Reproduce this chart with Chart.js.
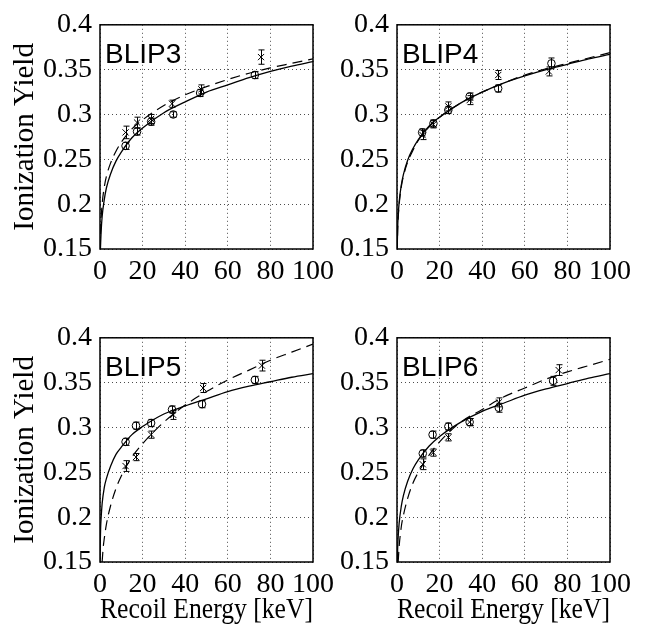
<!DOCTYPE html>
<html><head><meta charset="utf-8">
<script src="https://cdn.jsdelivr.net/npm/chart.js@4.4.0/dist/chart.umd.min.js"></script>
<style>
html,body{margin:0;padding:0;background:#fff;width:647px;height:627px;overflow:hidden;}
canvas{position:absolute;}
</style></head><body>
<canvas id="c1" width="340" height="300" style="left:0px;top:0px"></canvas>
<canvas id="c2" width="340" height="300" style="left:297px;top:0px"></canvas>
<canvas id="c3" width="340" height="314" style="left:0px;top:313px"></canvas>
<canvas id="c4" width="340" height="314" style="left:297px;top:313px"></canvas>
<script>
// ---------- tick labels ----------
const xTickValues = [0, 20, 40, 60, 80, 100];
const xTickLabels = ['0', '20', '40', '60', '80', '100'];
const yTickValues = [0.15, 0.2, 0.25, 0.3, 0.35, 0.4];
const yTickLabels = ['0.15', '0.2', '0.25', '0.3', '0.35', '0.4'];
const panelNames = ['BLIP3', 'BLIP4', 'BLIP5', 'BLIP6'];

// ---------- BLIP3 ----------
const blip3CircleE = [12.0, 17.4, 24.0, 34.4, 47.0, 72.7];
const blip3CircleY = [0.265, 0.281, 0.292, 0.300, 0.324, 0.344];
const blip3CircleErr = [0.004, 0.004, 0.004, 0.003, 0.004, 0.004];
const blip3StarE = [12.0, 17.4, 24.0, 33.8, 47.6, 75.6];
const blip3StarY = [0.280, 0.291, 0.295, 0.312, 0.328, 0.364];
const blip3StarErr = [0.007, 0.006, 0.005, 0.004, 0.005, 0.008];
const blip3SolidE = [0.2, 0.5, 1, 2, 3, 5, 7.5, 10, 15, 20, 30, 40, 50, 60, 70, 80, 90, 100];
const blip3SolidY = [0.150, 0.168, 0.186, 0.205, 0.218, 0.234, 0.248, 0.258, 0.274, 0.285, 0.302, 0.314, 0.325, 0.333, 0.341, 0.348, 0.354, 0.359];
const blip3DashE = [0.1, 0.3, 0.5, 1, 2, 3, 5, 7.5, 10, 15, 20, 30, 40, 50, 60, 70, 80, 90, 100];
const blip3DashY = [0.149, 0.171, 0.183, 0.200, 0.219, 0.231, 0.246, 0.259, 0.269, 0.284, 0.294, 0.310, 0.322, 0.331, 0.339, 0.346, 0.352, 0.357, 0.362];

// ---------- BLIP4 ----------
const blip4CircleE = [11.8, 17.1, 24.1, 34.1, 47.5, 72.5];
const blip4CircleY = [0.280, 0.290, 0.305, 0.320, 0.329, 0.357];
const blip4CircleErr = [0.004, 0.004, 0.004, 0.004, 0.004, 0.006];
const blip4StarE = [12.0, 17.1, 24.1, 34.1, 47.5, 71.3];
const blip4StarY = [0.277, 0.289, 0.309, 0.316, 0.344, 0.348];
const blip4StarErr = [0.005, 0.004, 0.005, 0.005, 0.005, 0.005];
const blip4SolidE = [0.1, 0.3, 0.5, 1, 2, 3, 5, 7.5, 10, 15, 20, 30, 40, 50, 60, 70, 80, 90, 100];
const blip4SolidY = [0.151, 0.173, 0.185, 0.202, 0.221, 0.233, 0.249, 0.262, 0.272, 0.287, 0.297, 0.313, 0.325, 0.335, 0.343, 0.350, 0.356, 0.362, 0.367];
const blip4DashE = [0.1, 0.3, 0.5, 1, 2, 3, 5, 7.5, 10, 15, 20, 30, 40, 50, 60, 70, 80, 90, 100];
const blip4DashY = [0.147, 0.170, 0.182, 0.199, 0.219, 0.231, 0.247, 0.260, 0.271, 0.286, 0.297, 0.313, 0.325, 0.335, 0.344, 0.351, 0.357, 0.363, 0.369];

// ---------- BLIP5 ----------
const blip5CircleE = [12.0, 16.9, 24.0, 33.8, 47.9, 72.7];
const blip5CircleY = [0.284, 0.302, 0.305, 0.320, 0.326, 0.353];
const blip5CircleErr = [0.004, 0.004, 0.004, 0.004, 0.004, 0.004];
const blip5StarE = [12.0, 16.9, 24.0, 34.4, 48.4, 76.0];
const blip5StarY = [0.257, 0.267, 0.292, 0.314, 0.344, 0.369];
const blip5StarErr = [0.006, 0.004, 0.004, 0.005, 0.005, 0.006];
const blip5SolidE = [0.03, 0.1, 0.3, 0.5, 1, 2, 3, 5, 7.5, 10, 15, 20, 30, 40, 50, 60, 70, 80, 90, 100];
const blip5SolidY = [0.150, 0.166, 0.188, 0.198, 0.215, 0.233, 0.243, 0.257, 0.270, 0.278, 0.292, 0.301, 0.315, 0.324, 0.332, 0.340, 0.346, 0.351, 0.356, 0.360];
const blip5DashE = [1, 1.5, 2, 3, 5, 7.5, 10, 15, 20, 30, 40, 50, 60, 70, 80, 90, 100];
const blip5DashY = [0.150, 0.166, 0.176, 0.192, 0.213, 0.232, 0.246, 0.267, 0.282, 0.306, 0.325, 0.340, 0.353, 0.364, 0.375, 0.384, 0.393];

// ---------- BLIP6 ----------
const blip6CircleE = [12.1, 16.7, 24.1, 34.1, 47.8, 73.3];
const blip6CircleY = [0.271, 0.292, 0.301, 0.306, 0.322, 0.352];
const blip6CircleErr = [0.004, 0.004, 0.004, 0.004, 0.005, 0.005];
const blip6StarE = [12.1, 17.0, 24.1, 34.1, 47.8, 75.9];
const blip6StarY = [0.259, 0.272, 0.289, 0.306, 0.328, 0.364];
const blip6StarErr = [0.006, 0.004, 0.004, 0.004, 0.005, 0.006];
const blip6SolidE = [0.16, 0.3, 0.5, 1, 2, 3, 5, 7.5, 10, 15, 20, 30, 40, 50, 60, 70, 80, 90, 100];
const blip6SolidY = [0.150, 0.164, 0.176, 0.193, 0.212, 0.224, 0.240, 0.254, 0.264, 0.279, 0.290, 0.306, 0.318, 0.327, 0.336, 0.343, 0.349, 0.355, 0.360];
const blip6DashE = [0.55, 1, 2, 3, 5, 7.5, 10, 15, 20, 30, 40, 50, 60, 70, 80, 90, 100];
const blip6DashY = [0.150, 0.167, 0.189, 0.202, 0.221, 0.238, 0.250, 0.269, 0.284, 0.306, 0.320, 0.334, 0.344, 0.354, 0.362, 0.369, 0.376];

// ---------- helpers ----------
const SERIF = '"Liberation Serif", "Times New Roman", Times, serif';
const SANS = '"Liberation Sans", Arial, Helvetica, sans-serif';
function zip(xs, ys) { return xs.map((x, i) => ({x: x, y: ys[i]})); }

const panelPlugin = {
  id: 'panel',
  afterDatasetsDraw(chart, args, opts) {
    const ctx = chart.ctx, a = chart.chartArea, xs = chart.scales.x, ys = chart.scales.y;
    ctx.save();
    ctx.beginPath(); ctx.rect(a.left, a.top, a.right - a.left, a.bottom - a.top); ctx.clip();
    ctx.strokeStyle = '#000'; ctx.lineWidth = 1;
    chart.data.datasets.forEach((ds) => {
      if (!ds.errors) return;
      ds.data.forEach((p, j) => {
        const px = Math.round(xs.getPixelForValue(p.x)) + 0.5;
        const y1 = ys.getPixelForValue(p.y - ds.errors[j]);
        const y2 = ys.getPixelForValue(p.y + ds.errors[j]);
        ctx.beginPath();
        ctx.moveTo(px, y1); ctx.lineTo(px, y2);
        ctx.moveTo(px - 3, y1); ctx.lineTo(px + 3, y1);
        ctx.moveTo(px - 3, y2); ctx.lineTo(px + 3, y2);
        ctx.stroke();
      });
    });
    ctx.restore();
    ctx.save();
    ctx.strokeStyle = '#000'; ctx.lineWidth = 1.5;
    ctx.strokeRect(a.left, a.top, a.right - a.left, a.bottom - a.top);
    ctx.fillStyle = '#000';
    ctx.font = '28px ' + SANS;
    ctx.textAlign = 'left'; ctx.textBaseline = 'alphabetic';
    ctx.fillText(opts.label, a.left + 5, a.top + 38);
    ctx.restore();
  }
};

function makePanel(id, label, d, showXTitle, showYTitle, xAxisHeight) {
  const datasets = [
    {data: zip(d.circleE, d.circleY), errors: d.circleErr, showLine: false, pointStyle: 'circle', pointRadius: 3.8,
     pointBorderWidth: 1, borderColor: '#000', backgroundColor: 'rgba(0,0,0,0)'},
    {data: zip(d.starE, d.starY), errors: d.starErr, showLine: false, pointStyle: 'crossRot', pointRadius: 4.4,
     pointBorderWidth: 1, borderColor: '#000', backgroundColor: '#000'},
    {data: zip(d.solidE, d.solidY), showLine: true, pointRadius: 0, borderColor: '#000', borderWidth: 1.3,
     cubicInterpolationMode: 'monotone', fill: false},
    {data: zip(d.dashE, d.dashY), showLine: true, pointRadius: 0, borderColor: '#000', borderWidth: 1.2,
     borderDash: [10, 6], cubicInterpolationMode: 'monotone', fill: false}
  ];
  return new Chart(document.getElementById(id), {
    type: 'scatter',
    data: {datasets: datasets},
    plugins: [panelPlugin],
    options: {
      responsive: false, animation: false, devicePixelRatio: 1,
      layout: {padding: {top: 22, right: 23, left: 0, bottom: 0}},
      plugins: {legend: {display: false}, tooltip: {enabled: false}, panel: {label: label}},
      scales: {
        x: {
          type: 'linear', min: 0, max: 100,
          afterBuildTicks: (s) => { s.ticks = xTickValues.map(v => ({value: v})); },
          afterFit: (s) => { s.height = xAxisHeight; },
          ticks: {callback: (v, i) => xTickLabels[i], font: {family: SERIF, size: 28}, color: '#000',
                  padding: 6, maxRotation: 0, autoSkip: false},
          grid: {color: 'rgba(0,0,0,0.7)', lineWidth: 1, drawTicks: false},
          border: {display: false, dash: [1, 3]},
          title: {display: showXTitle, text: 'Recoil Energy [keV]', color: '#000',
                  font: {family: SERIF, size: 29, lineHeight: 1}, padding: {top: 0, bottom: 2}}
        },
        y: {
          type: 'linear', min: 0.15, max: 0.4,
          afterBuildTicks: (s) => { s.ticks = yTickValues.map(v => ({value: v})); },
          afterFit: (s) => { s.width = 100; },
          ticks: {callback: (v, i) => yTickLabels[i], font: {family: SERIF, size: 28}, color: '#000',
                  padding: 8, autoSkip: false},
          grid: {color: 'rgba(0,0,0,0.7)', lineWidth: 1, drawTicks: false},
          border: {display: false, dash: [1, 3]},
          title: {display: showYTitle, text: 'Ionization Yield', color: '#000',
                  font: {family: SERIF, size: 29, lineHeight: 1}, padding: {top: 11, bottom: 0}}
        }
      }
    }
  });
}

makePanel('c1', panelNames[0], {circleE: blip3CircleE, circleY: blip3CircleY, circleErr: blip3CircleErr,
  starE: blip3StarE, starY: blip3StarY, starErr: blip3StarErr, solidE: blip3SolidE, solidY: blip3SolidY,
  dashE: blip3DashE, dashY: blip3DashY}, false, true, 51);
makePanel('c2', panelNames[1], {circleE: blip4CircleE, circleY: blip4CircleY, circleErr: blip4CircleErr,
  starE: blip4StarE, starY: blip4StarY, starErr: blip4StarErr, solidE: blip4SolidE, solidY: blip4SolidY,
  dashE: blip4DashE, dashY: blip4DashY}, false, false, 51);
makePanel('c3', panelNames[2], {circleE: blip5CircleE, circleY: blip5CircleY, circleErr: blip5CircleErr,
  starE: blip5StarE, starY: blip5StarY, starErr: blip5StarErr, solidE: blip5SolidE, solidY: blip5SolidY,
  dashE: blip5DashE, dashY: blip5DashY}, true, true, 65);
makePanel('c4', panelNames[3], {circleE: blip6CircleE, circleY: blip6CircleY, circleErr: blip6CircleErr,
  starE: blip6StarE, starY: blip6StarY, starErr: blip6StarErr, solidE: blip6SolidE, solidY: blip6SolidY,
  dashE: blip6DashE, dashY: blip6DashY}, true, false, 65);
</script>
</body></html>
